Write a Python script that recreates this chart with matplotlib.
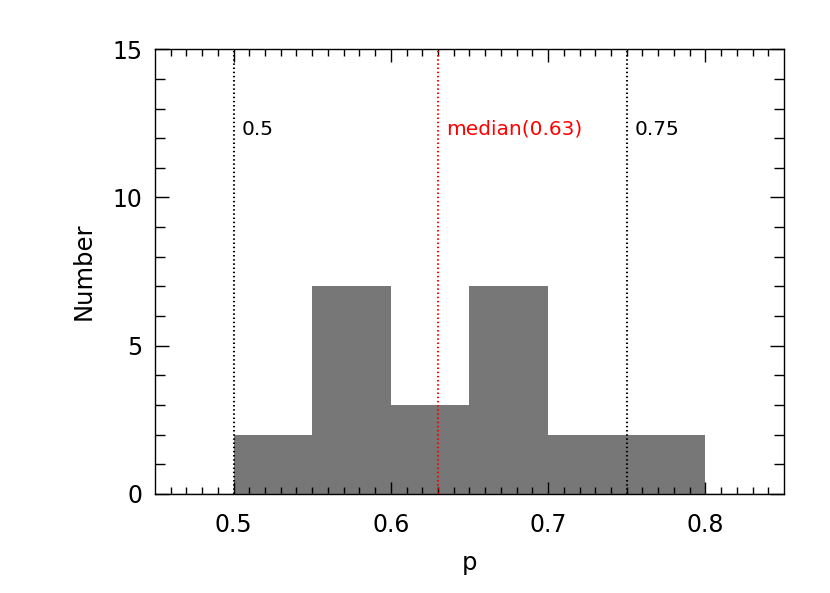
import matplotlib
matplotlib.use('Agg')
import matplotlib.pyplot as plt
import numpy as np

# histogram bins and counts
bin_edges = [0.45, 0.50, 0.55, 0.60, 0.65, 0.70, 0.75, 0.80, 0.85]
counts = [0, 2, 7, 3, 7, 2, 2, 0]

# reference lines
lines_x = [0.5, 0.63, 0.75]
lines_lab = ['0.5', 'median(0.63)', '0.75']
lines_col = ['black', 'red', 'black']

plt.rcParams['font.family'] = ['DejaVu Sans']

fig = plt.figure(figsize=(8.3, 5.93), dpi=100)
ax = fig.add_axes([0.1867, 0.167, 0.7579, 0.750])

ax.stairs(counts, bin_edges, fill=True, color='#777777', linewidth=0)
ax.plot([bin_edges[0], bin_edges[-1]], [0, 0], color='#777777', lw=1)

for x, lab, c in zip(lines_x, lines_lab, lines_col):
    ax.axvline(x, color=c, lw=1.5, linestyle=(0, (0.7, 1.3)))
    ax.text(x + 0.005, 12.3, lab, color=c, fontsize=14.5, va='center', ha='left')

ax.set_xlim(0.45, 0.85)
ax.set_ylim(0, 15)
ax.set_xticks([0.5, 0.6, 0.7, 0.8])
ax.set_xticklabels(['0.5', '0.6', '0.7', '0.8'])
ax.set_xticks(np.arange(0.46, 0.85, 0.01), minor=True)
ax.set_yticks([0, 5, 10, 15])
ax.set_yticks(np.arange(0, 16, 1), minor=True)

ax.tick_params(which='both', direction='in', top=True, right=True, labelsize=17, width=1)
ax.tick_params(which='major', length=9, pad=14)
ax.tick_params(which='minor', length=5)
ax.tick_params(axis='y', which='minor', length=7)
ax.tick_params(axis='y', which='major', length=10, pad=9)

for s in ax.spines.values():
    s.set_linewidth(1)

ax.set_xlabel('p', fontsize=17.5, labelpad=10)
ax.set_ylabel('Number', fontsize=17.5, labelpad=12)

fig.savefig('out.png', dpi=100)
